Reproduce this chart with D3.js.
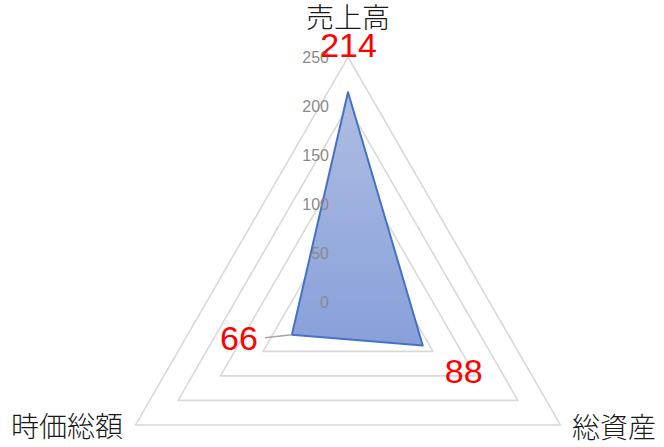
<!DOCTYPE html>
<html><head><meta charset="utf-8">
<script src="https://cdn.jsdelivr.net/npm/d3@7"></script>
<style>body{margin:0;background:#fff}svg{display:block}</style>
</head><body>
<svg id="c" width="664" height="447"></svg>
<script>
const categories = ["売上高", "総資産", "時価総額"];
const values = [214, 88, 66];
const ticks = [0, 50, 100, 150, 200, 250];

const W = 664, H = 447;
const cx = 348, cy = 302.3, R = 245.3;
const svg = d3.select("#c");
const r = d3.scaleLinear().domain([0, 250]).range([0, R]);
const ang = d3.scaleLinear().domain([0, categories.length]).range([0, 2 * Math.PI]);
const pt = (i, v) => [cx + r(v) * Math.sin(ang(i)), cy - r(v) * Math.cos(ang(i))];

const defs = svg.append("defs");
const g = defs.append("linearGradient").attr("id", "fillg").attr("x1", 0).attr("y1", 0).attr("x2", 0).attr("y2", 1);
g.append("stop").attr("offset", "0%").attr("stop-color", "#aebde2");
g.append("stop").attr("offset", "100%").attr("stop-color", "#88a0da");

// grid rings
svg.append("g").selectAll("path").data(ticks.filter(t => t > 0)).join("path")
  .attr("d", t => d3.line()(categories.map((c, i) => pt(i, t))) + "Z")
  .attr("fill", "none").attr("stroke", "#d9d9d9").attr("stroke-width", 1.6);

// series polygon
svg.append("path")
  .attr("d", d3.line()(values.map((v, i) => pt(i, v))) + "Z")
  .attr("fill", "url(#fillg)").attr("stroke", "#4472c4").attr("stroke-width", 2).attr("stroke-linejoin", "round");

// tick labels
svg.append("g").selectAll("text").data(ticks).join("text")
  .attr("x", cx - 19).attr("y", t => cy - r(t)).attr("dy", "0.36em")
  .attr("text-anchor", "end").attr("font-family", "Liberation Sans, Arial, sans-serif")
  .attr("font-size", 16).attr("fill", "#8a8a8a").text(t => t);

// category labels
const catPos = [[0, -285], [266, 125], [-281, 124]];
svg.append("g").selectAll("text").data(categories).join("text")
  .attr("x", (d, i) => cx + catPos[i][0]).attr("y", (d, i) => cy + catPos[i][1])
  .attr("dy", "0.38em").attr("text-anchor", "middle")
  .attr("font-family", "Noto Sans CJK JP, sans-serif").attr("font-weight", 300)
  .attr("font-size", 28).attr("fill", "#1a1a1a").text(d => d);

// leader line for third label
const p2 = pt(2, values[2]);
svg.append("path").attr("d", d3.line()([[p2[0] - 27, p2[1] + 3], p2]))
  .attr("stroke", "#a6a6a6").attr("stroke-width", 1.5).attr("fill", "none");

// data labels
const lblOff = [[0.5, -35], [41, 37.5], [-53, 15]];
svg.append("g").selectAll("text").data(values).join("text")
  .attr("x", (v, i) => pt(i, v)[0] + lblOff[i][0]).attr("y", (v, i) => pt(i, v)[1] + lblOff[i][1])
  .attr("text-anchor", "middle").attr("font-family", "Liberation Sans, Arial, sans-serif")
  .attr("font-size", 34).attr("fill", "#ff0000").text(v => v);
</script>
</body></html>
